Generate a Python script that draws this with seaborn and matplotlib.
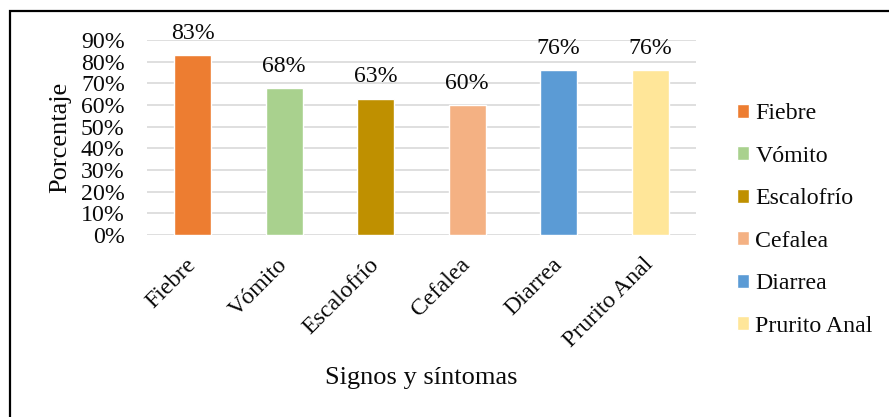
import matplotlib
matplotlib.use("Agg")
import matplotlib.pyplot as plt
import seaborn as sns
import pandas as pd
from matplotlib.patches import Rectangle
from matplotlib.ticker import PercentFormatter

categories = ["Fiebre", "Vómito", "Escalofrío", "Cefalea", "Diarrea", "Prurito Anal"]
values = [0.83, 0.68, 0.63, 0.60, 0.76, 0.76]
labels = ["83%", "68%", "63%", "60%", "76%", "76%"]
colors = ["#ED7D31", "#A9D18E", "#BF9000", "#F4B183", "#5B9BD5", "#FFE699"]
yticks = [0, 0.1, 0.2, 0.3, 0.4, 0.5, 0.6, 0.7, 0.8, 0.9]

sns.set_theme(style="white")
plt.rcParams["font.family"] = ["Liberation Serif", "DejaVu Serif"]

FS = 17.2
TXT = "#0A0A0A"

df = pd.DataFrame({"Signos": categories, "Porcentaje": values})

fig = plt.figure(figsize=(8.89, 4.17), dpi=100)
ax = fig.add_axes([147 / 889, 1 - 235 / 417, (696 - 147) / 889, (235 - 40) / 417])

sns.barplot(data=df, x="Signos", y="Porcentaje", hue="Signos",
            palette=dict(zip(categories, colors)), width=0.404,
            saturation=1, legend=True, ax=ax, zorder=3)

ax.set_ylim(0, 0.9)
ax.set_yticks(yticks)
ax.yaxis.set_major_formatter(PercentFormatter(1.0, decimals=0))
ax.grid(axis="y", color="#D9D9D9", linewidth=1.2, zorder=0)
ax.grid(axis="x", visible=False)
ax.set_axisbelow(True)
for s in ax.spines.values():
    s.set_visible(False)
ax.tick_params(axis="y", length=0, pad=16, labelsize=FS, labelcolor=TXT)
ax.tick_params(axis="x", length=0, pad=19, labelsize=FS, labelcolor=TXT)
for t in ax.get_xticklabels():
    t.set_rotation(45)
    t.set_ha("right")
    t.set_va("center")
    t.set_rotation_mode("anchor")

for cont, lab in zip(ax.containers, labels):
    for bar in cont:
        ax.annotate(lab, (bar.get_x() + bar.get_width() / 2, bar.get_height()),
                    xytext=(0, 15.5), textcoords="offset points",
                    ha="center", va="center", fontsize=FS, color=TXT,
                    annotation_clip=False)

ax.set_xlabel("")
ax.set_ylabel("")
fig.text(60 / 889, 1 - 137.5 / 417, "Porcentaje", rotation=90,
         ha="center", va="center", fontsize=19, color=TXT)
fig.text(421 / 889, 1 - 378 / 417, "Signos y síntomas",
         ha="center", va="center", fontsize=19, color=TXT)

handles, leg_labels = ax.get_legend_handles_labels()
if ax.get_legend() is not None:
    ax.get_legend().remove()
fig.legend(handles, leg_labels, loc="center left",
           bbox_to_anchor=(737 / 889, 1 - 220 / 417), frameon=False,
           borderpad=0, borderaxespad=0, handlelength=0.52, handleheight=0.52,
           handletextpad=0.25, labelspacing=0.9, fontsize=FS,
           labelcolor=TXT)

fig.patches.append(Rectangle((10 / 889, -0.1), 1.2, 1.1 - 10.5 / 417,
                             transform=fig.transFigure, fill=False,
                             edgecolor="black", linewidth=1.6, clip_on=False))

fig.savefig("out.png", dpi=100)
